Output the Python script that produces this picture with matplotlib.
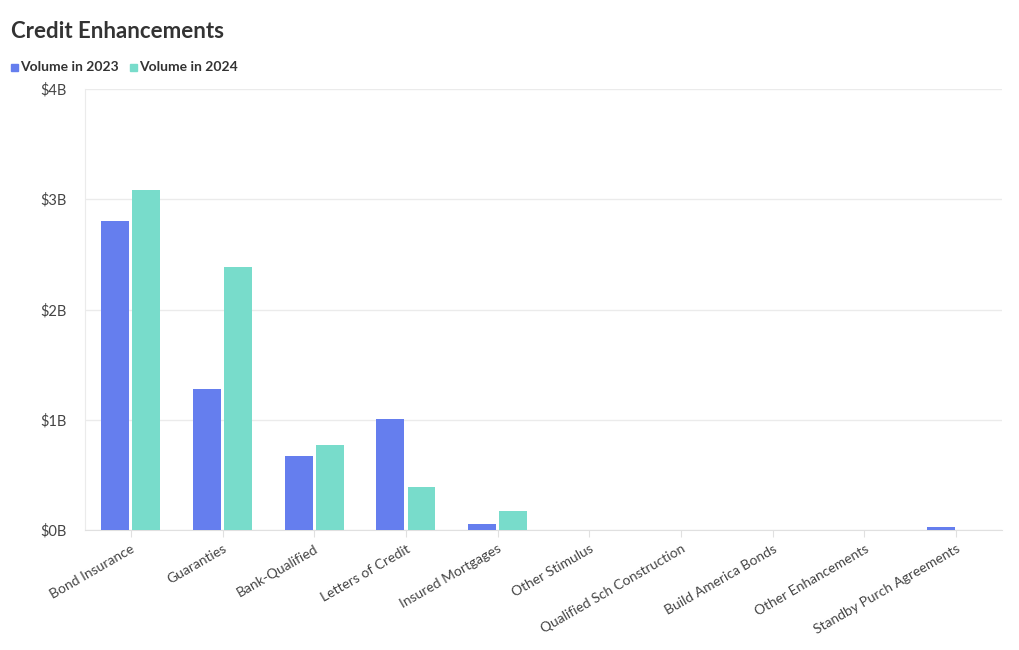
import numpy as np
import matplotlib.pyplot as plt
from matplotlib.patches import Rectangle

plt.rcParams['font.family'] = ['Lato', 'DejaVu Sans']

categories = ['Bond Insurance', 'Guaranties', 'Bank-Qualified', 'Letters of Credit',
              'Insured Mortgages', 'Other Stimulus', 'Qualified Sch Construction',
              'Build America Bonds', 'Other Enhancements', 'Standby Purch Agreements']
vol_2023 = [2.80, 1.28, 0.67, 1.01, 0.055, 0, 0, 0, 0, 0.025]  # $B
vol_2024 = [3.08, 2.39, 0.77, 0.39, 0.17, 0, 0, 0, 0, 0]
series_names = ['Volume in 2023', 'Volume in 2024']
colors = ['#657eee', '#78dccb']

fig = plt.figure(figsize=(10.2, 6.5), dpi=100)
ax = fig.add_axes([85 / 1020, 1 - 530 / 650, 917 / 1020, 441 / 650])

x = np.arange(len(categories))
w = 0.305
ax.bar(x - w / 2 - 0.017, vol_2023, width=w, color=colors[0], zorder=3)
ax.bar(x + w / 2 + 0.017, vol_2024, width=w, color=colors[1], zorder=3)

ax.set_xlim(-0.5, len(categories) - 0.5)
ax.set_ylim(0, 4)
ax.set_yticks([0, 1, 2, 3, 4])
ax.set_yticklabels(['$0B', '$1B', '$2B', '$3B', '$4B'])
ax.set_xticks(x)
ax.set_xticklabels(categories, rotation=30, ha='right', rotation_mode='anchor')

ax.grid(axis='y', color='#ebebeb', linewidth=1, zorder=0)
for s in ['top', 'right']:
    ax.spines[s].set_visible(False)
ax.spines['left'].set_color('#ebebeb')
ax.spines['bottom'].set_color('#e0e0e0')
ax.tick_params(axis='y', length=0, labelsize=10.5, labelcolor='#444444', pad=13)
ax.tick_params(axis='x', length=5, color='#e0e0e0', labelsize=10, labelcolor='#444444', pad=4)

fig.text(11 / 1020, 1 - 31 / 650, 'Credit Enhancements', fontsize=16, fontweight='bold',
         color='#333333', va='center', ha='left')

# legend
lx = 11
for name, c in zip(series_names, colors):
    fig.patches.append(Rectangle((lx / 1020, 1 - 71 / 650), 7 / 1020, 7 / 650,
                                 transform=fig.transFigure, color=c))
    t = fig.text((lx + 9) / 1020, 1 - 67 / 650, name, fontsize=10, fontweight='bold',
                 color='#333333', va='center', ha='left')
    fig.canvas.draw()
    bb = t.get_window_extent()
    lx = bb.x1 + 11

fig.savefig('out.png', dpi=100)
